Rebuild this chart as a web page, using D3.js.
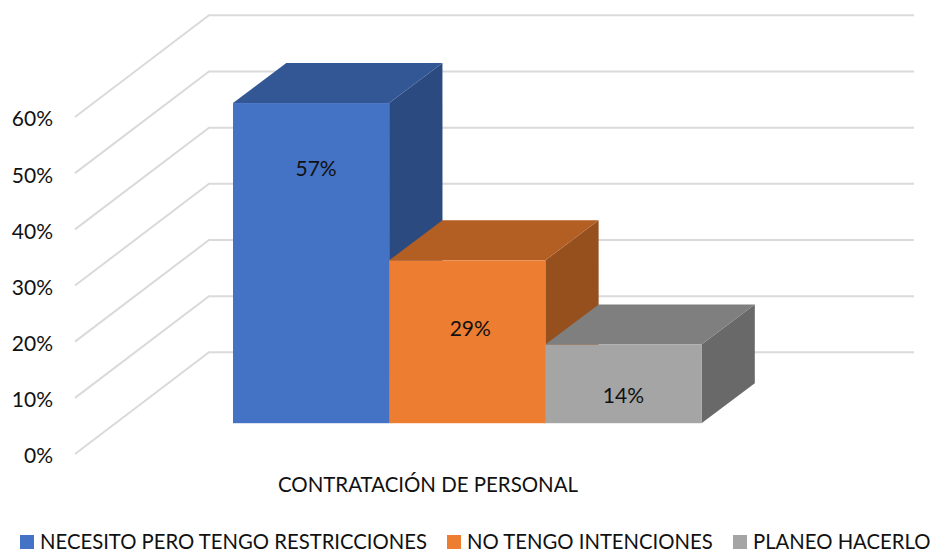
<!DOCTYPE html>
<html><head><meta charset="utf-8">
<style>html,body{margin:0;background:#fff}svg{display:block}text{font-family:Lato,"Open Sans",sans-serif;fill:#111}</style>
<script src="https://cdnjs.cloudflare.com/ajax/libs/d3/7.8.5/d3.min.js"></script>
</head><body><svg id="c" width="932" height="550"></svg>
<script>
const seriesNames = ["NECESITO PERO TENGO RESTRICCIONES","NO TENGO INTENCIONES","PLANEO HACERLO"];
const seriesValues = [57,29,14];
const dataLabels = ["57%","29%","14%"];
const axisTicks = [0,10,20,30,40,50,60];
const categoryLabel = "CONTRATACIÓN DE PERSONAL";

const frontColors = ["#4472C4","#ED7D31","#A5A5A5"];
const topColors = ["#335795","#B35E22","#7F7F7F"];
const sideColors = ["#2A4A80","#96501D","#696969"];
const labelDrops = [73,76,58];
const labelShifts = [5,3,0];
const svg = d3.select("#c");

const yFront = d3.scaleLinear().domain([0,60]).range([454,117]);
const yShift = {back:-101.7};
const xGrid = {front:75, back:209, end:914};
const x = d3.scaleBand().domain(seriesNames).range([233,701.5]);
const yBar = d3.scaleLinear().domain([0,60]).range([423.2,86.2]);
const depth = {dx:53.3, dy:-40};

// gridlines
svg.append("g").selectAll("polyline").data(axisTicks).join("polyline")
  .attr("points", d => {
    const f = yFront(d), b = f + yShift.back;
    return [[xGrid.front,f],[xGrid.back,b],[xGrid.end,b]].join(" ");
  })
  .attr("fill","none").attr("stroke","#DADADA").attr("stroke-width",2);

// value axis
const axis = d3.axisLeft(yFront).tickValues(axisTicks).tickFormat(d => d+"%").tickSize(0).tickPadding(0);
const gA = svg.append("g").attr("transform","translate(53,2)").call(axis);
gA.select(".domain").remove();
gA.selectAll("text").style("font-size","21px").attr("dy","0.33em");

// bars
const bars = svg.append("g").selectAll("g").data(seriesNames).join("g");
bars.each(function(name,i){
  const g = d3.select(this);
  const x0 = x(name), x1 = x0 + x.bandwidth(), y0 = yBar(0), yt = yBar(seriesValues[i]);
  const {dx,dy} = depth;
  g.append("polygon").attr("fill",sideColors[i])
    .attr("points",[[x1,yt],[x1+dx,yt+dy],[x1+dx,y0+dy],[x1,y0]].join(" "));
  g.append("polygon").attr("fill",topColors[i])
    .attr("points",[[x0,yt],[x0+dx,yt+dy],[x1+dx,yt+dy],[x1,yt]].join(" "));
  g.append("rect").attr("fill",frontColors[i])
    .attr("x",x0).attr("y",yt).attr("width",x.bandwidth()).attr("height",y0-yt);
});
// data labels
svg.append("g").selectAll("text").data(seriesNames).join("text")
  .attr("x",(d,i) => x(d)+x.bandwidth()/2+labelShifts[i])
  .attr("y",(d,i) => yBar(seriesValues[i])+labelDrops[i])
  .attr("text-anchor","middle").style("font-size","21px")
  .text((d,i) => dataLabels[i]);

// category label
svg.append("text").attr("x",428).attr("y",492).attr("text-anchor","middle")
  .style("font-size","20.45px").text(categoryLabel);

// legend
const legendX = d3.scaleOrdinal().domain(seriesNames).range([20,447,733]);
const leg = svg.append("g").selectAll("g").data(seriesNames).join("g")
  .attr("transform",d => `translate(${legendX(d)},535)`);
leg.append("rect").attr("width",14).attr("height",14).attr("fill",(d,i)=>frontColors[i]);
leg.append("text").attr("x",20).attr("y",13.5).style("font-size","20.3px").text(d=>d);
</script></body></html>
